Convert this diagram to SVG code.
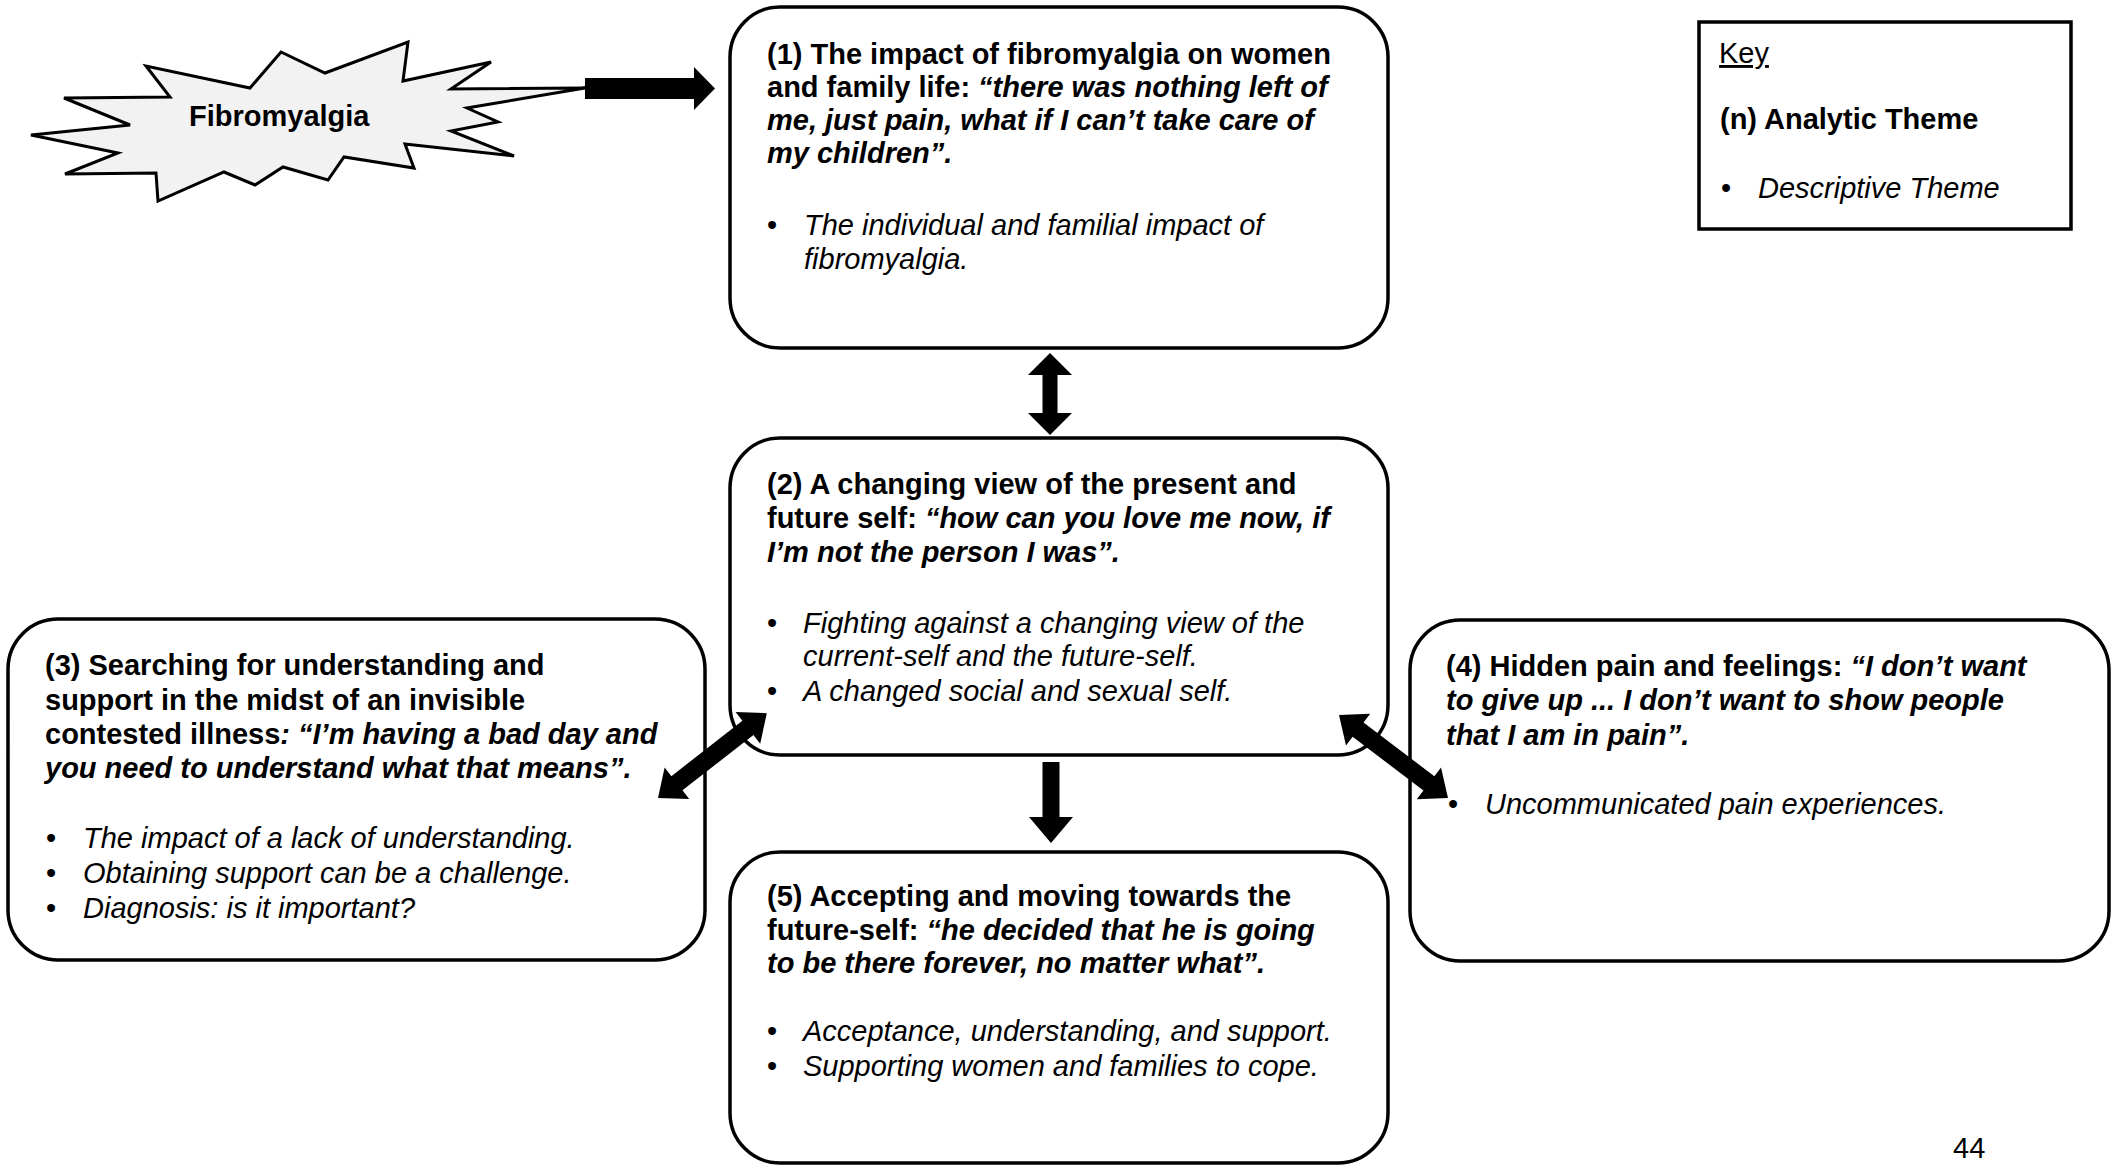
<svg xmlns="http://www.w3.org/2000/svg" width="2116" height="1165" viewBox="0 0 2116 1165">
<style>
.box{fill:#fff;stroke:#000;stroke-width:3.5}
.key{fill:#fff;stroke:#000;stroke-width:3.5}
.star{fill:#f2f2f2;stroke:#000;stroke-width:3;stroke-linejoin:miter}
.arr{fill:#000;stroke:none}
text{font-family:"Liberation Sans",Arial,Helvetica,sans-serif;font-size:29px;fill:#000}
.b{font-weight:bold}
.i{font-style:italic}
.bi{font-weight:bold;font-style:italic}
</style>
<rect width="2116" height="1165" fill="#fff"/>

<g id="node-fibromyalgia">
<polygon class="star" points="31,135 130,125 64,98 170,97 146,66 250,88 281,52 325,73 408,42 403,81 491,62 451,89 585,88 467,108 498,122 451,131 514,156 405,144 414,168 344,157 328,180 283,167 255,185 224,172 158,201 156,173 65,174 118,153"/>
<text class="b" x="189" y="126">Fibromyalgia</text>
</g>

<g id="node-1">
<rect class="box" x="730" y="7" width="658" height="341" rx="50" ry="50"/>
<text class="b" x="767" y="64">(1) The impact of fibromyalgia on women</text>
<text x="767" y="97"><tspan class="b">and family life: </tspan><tspan class="bi">“there was nothing left of</tspan></text>
<text class="bi" x="767" y="130">me, just pain, what if I can’t take care of</text>
<text class="bi" x="767" y="163">my children”.</text>
<text x="767" y="235">•</text>
<text class="i" x="804" y="235">The individual and familial impact of</text>
<text class="i" x="804" y="269">fibromyalgia.</text>
</g>

<g id="node-2">
<rect class="box" x="730" y="438" width="658" height="317" rx="50" ry="50"/>
<text class="b" x="767" y="494">(2) A changing view of the present and</text>
<text x="767" y="528"><tspan class="b">future self: </tspan><tspan class="bi">“how can you love me now, if</tspan></text>
<text class="bi" x="767" y="562">I’m not the person I was”.</text>
<text x="767" y="633">•</text>
<text class="i" x="803" y="633">Fighting against a changing view of the</text>
<text class="i" x="803" y="666">current-self and the future-self.</text>
<text x="767" y="701">•</text>
<text class="i" x="803" y="701">A changed social and sexual self.</text>
</g>

<g id="node-3">
<rect class="box" x="8" y="619" width="697" height="341" rx="50" ry="50"/>
<text class="b" x="45" y="675">(3) Searching for understanding and</text>
<text class="b" x="45" y="710">support in the midst of an invisible</text>
<text x="45" y="744"><tspan class="b">contested illness</tspan><tspan class="bi">: “I’m having a bad day and</tspan></text>
<text class="bi" x="45" y="778">you need to understand what that means”.</text>
<text x="46" y="848">•</text>
<text class="i" x="83" y="848">The impact of a lack of understanding.</text>
<text x="46" y="883">•</text>
<text class="i" x="83" y="883">Obtaining support can be a challenge.</text>
<text x="46" y="918">•</text>
<text class="i" x="83" y="918">Diagnosis: is it important?</text>
</g>

<g id="node-4">
<rect class="box" x="1410" y="620" width="699" height="341" rx="50" ry="50"/>
<text x="1446" y="676"><tspan class="b">(4) Hidden pain and feelings: </tspan><tspan class="bi">“I don’t want</tspan></text>
<text class="bi" x="1446" y="710">to give up ... I don’t want to show people</text>
<text class="bi" x="1446" y="745">that I am in pain”.</text>
<text x="1448" y="814">•</text>
<text class="i" x="1485" y="814">Uncommunicated pain experiences.</text>
</g>

<g id="node-5">
<rect class="box" x="730" y="852" width="658" height="311" rx="50" ry="50"/>
<text class="b" x="767" y="906">(5) Accepting and moving towards the</text>
<text x="767" y="940"><tspan class="b">future-self: </tspan><tspan class="bi">“he decided that he is going</tspan></text>
<text class="bi" x="767" y="973">to be there forever, no matter what”.</text>
<text x="767" y="1041">•</text>
<text class="i" x="803" y="1041">Acceptance, understanding, and support.</text>
<text x="767" y="1076">•</text>
<text class="i" x="803" y="1076">Supporting women and families to cope.</text>
</g>

<g id="node-key">
<rect class="key" x="1699" y="22" width="372" height="207"/>
<text x="1719" y="63" text-decoration="underline">Key</text>
<text class="b" x="1720" y="129">(n) Analytic Theme</text>
<text x="1721" y="198">•</text>
<text class="i" x="1758" y="198">Descriptive Theme</text>
</g>

<g id="page-number">
<text x="1953" y="1158">44</text>
</g>

<g id="connectors">
<path class="arr" d="M585,78 H694 V67 L715,88.5 L694,110 V99 H585 Z"/>
<path class="arr" d="M1050,353 L1072,375 L1057.5,375 L1057.5,413 L1072,413 L1050,435 L1028,413 L1042.5,413 L1042.5,375 L1028,375 Z"/>
<path class="arr" d="M1042.5,762 H1059.5 V817 H1073 L1051,843 L1029,817 H1042.5 Z"/>
<path class="arr" transform="translate(658,798) rotate(-37.95)" d="M0,0 L24,-20 L24,-9 L114,-9 L114,-20 L138,0 L114,20 L114,9 L24,9 L24,20 Z"/>
<path class="arr" transform="translate(1339,715) rotate(37.29)" d="M0,0 L24,-20 L24,-9 L113,-9 L113,-20 L137,0 L113,20 L113,9 L24,9 L24,20 Z"/>
</g>
</svg>
